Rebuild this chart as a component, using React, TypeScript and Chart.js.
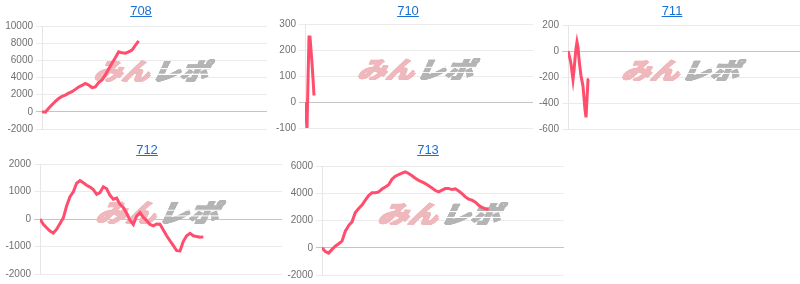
import React, { useEffect, useRef } from 'react';
import { Chart, registerables } from 'chart.js';
Chart.register(...registerables);

// ---- data ----
const titles = ['708', '710', '711', '712', '713'];

const series708 = [0, -40, 420, 820, 1210, 1550, 1800, 1950, 2180, 2340, 2620, 2890, 3090, 3300, 3130, 2830, 2900, 3400, 3700, 4300, 5000, 5650, 6300, 7000, 6870, 6830, 6980, 7200, 7750, 8260];
const series710 = [0, -50, -100, 80, 250, 250, 200, 150, 90, 25];
const series711 = [0, -30, -60, -100, -160, -220, -150, -60, 20, 70, 30, -60, -130, -190, -230, -270, -360, -450, -510, -370, -220, -215];
const series712 = [0, -190, -320, -440, -510, -370, -160, 40, 480, 810, 990, 1300, 1400, 1320, 1230, 1160, 1070, 900, 960, 1170, 1100, 860, 720, 760, 530, 420, 210, -40, -200, 110, 230, 60, -60, -200, -250, -180, -190, -400, -610, -790, -970, -1150, -1160, -810, -610, -520, -610, -640, -660, -650];
const series713 = [0, -280, -390, -120, 110, 290, 480, 1220, 1630, 1900, 2590, 2880, 3130, 3500, 3830, 4040, 4040, 4100, 4310, 4460, 4620, 5030, 5250, 5360, 5480, 5570, 5450, 5280, 5100, 4950, 4840, 4710, 4550, 4380, 4200, 4100, 4230, 4340, 4340, 4270, 4330, 4160, 3970, 3730, 3570, 3490, 3340, 3120, 2960, 2850, 2800];

const yTicks708 = [-2000, 0, 2000, 4000, 6000, 8000, 10000];
const yTicks710 = [-100, 0, 100, 200, 300];
const yTicks711 = [-600, -400, -200, 0, 200];
const yTicks712 = [-2000, -1000, 0, 1000, 2000];
const yTicks713 = [-2000, 0, 2000, 4000, 6000];

// x-axis extent (number of sample steps spanning the plot width)
const xSpan708 = 67.5;
const xSpan710 = 228;
const xSpan711 = 232;
const xSpan712 = 72.6;
const xSpan713 = 72.6;

// ---- layout (chart area boxes & title positions) ----
const AXIS_W = 42;
const PAD = 8;
const panels = [
  { title: titles[0], series: series708, ticks: yTicks708, xSpan: xSpan708, area: { l: 42, r: 267, t: 25, b: 130 }, tx: 141, ty: 3 },
  { title: titles[1], series: series710, ticks: yTicks710, xSpan: xSpan710, area: { l: 305, r: 533, t: 23, b: 129 }, tx: 408, ty: 3 },
  { title: titles[2], series: series711, ticks: yTicks711, xSpan: xSpan711, area: { l: 568, r: 800, t: 24, b: 130 }, tx: 672, ty: 3 },
  { title: titles[3], series: series712, ticks: yTicks712, xSpan: xSpan712, area: { l: 40, r: 282, t: 163, b: 275 }, tx: 147, ty: 142 },
  { title: titles[4], series: series713, ticks: yTicks713, xSpan: xSpan713, area: { l: 322, r: 564, t: 165, b: 276 }, tx: 428, ty: 142 },
];

let logoCache: HTMLCanvasElement | null = null;
function getLogo(): HTMLCanvasElement {
  if (logoCache) return logoCache;
  const fs = 60;
  const font = `900 ${fs}px "Noto Sans CJK JP", sans-serif`;
  const c = document.createElement('canvas');
  let ctx = c.getContext('2d')!;
  ctx.font = font;
  const w1 = ctx.measureText('みん').width;
  const w2 = ctx.measureText('レポ').width;
  const skew = 0.4;
  const H = Math.round(fs * 0.95);
  const gap = 4;
  c.width = Math.ceil(w1 + w2 + skew * H + 12);
  c.height = H;
  ctx = c.getContext('2d')!;
  ctx.font = font;
  ctx.textBaseline = 'middle';
  ctx.lineJoin = 'round';
  ctx.lineWidth = 4;
  ctx.setTransform(1, 0, -skew, 1, skew * H + 4, 0);
  ctx.fillStyle = ctx.strokeStyle = '#efb8bc';
  ctx.strokeText('みん', 0, H / 2 + 2);
  ctx.fillText('みん', 0, H / 2 + 2);
  ctx.fillStyle = ctx.strokeStyle = '#b4b4b4';
  ctx.strokeText('レポ', w1 + gap, H / 2 + 2);
  ctx.fillText('レポ', w1 + gap, H / 2 + 2);
  ctx.setTransform(1, 0, 0, 1, 0, 0);
  ctx.globalCompositeOperation = 'destination-out';
  ctx.fillStyle = '#000';
  const gx = w1 + gap + 4;
  [0.4, 0.64].forEach((f) => ctx.fillRect(gx, H * f, c.width - gx, 2.5));
  ctx.globalCompositeOperation = 'source-over';
  logoCache = c;
  return c;
}

const logoPlugin = {
  id: 'minrepoLogo',
  beforeDatasetsDraw(chart: any) {
    const { left, right, top, bottom } = chart.chartArea;
    const w = (right - left) * 0.57;
    const h = (bottom - top) * 0.22;
    const cx = (left + right) / 2;
    const cy = (top + bottom) / 2 - 7;
    chart.ctx.drawImage(getLogo(), cx - w / 2, cy - h / 2, w, h);
  },
};

function Panel({ cfg }: { cfg: any }) {
  const ref = useRef<HTMLCanvasElement>(null);
  const { l, r, t, b } = cfg.area;
  const W = r - l + AXIS_W;
  const Hh = b - t + PAD * 2;
  useEffect(() => {
    const ticks: number[] = cfg.ticks;
    const chart = new Chart(ref.current!, {
      type: 'line',
      data: {
        datasets: [
          {
            data: cfg.series.map((v: number, i: number) => ({ x: i, y: v })),
            borderColor: '#ff4d6d',
            borderWidth: 3,
            pointRadius: 0,
            tension: 0,
            fill: false,
          },
        ],
      },
      options: {
        animation: false,
        responsive: false,
        maintainAspectRatio: false,
        events: [],
        layout: { padding: { top: PAD, bottom: PAD, left: 0, right: 0 } },
        plugins: { legend: { display: false }, tooltip: { enabled: false }, title: { display: false } },
        scales: {
          x: { type: 'linear', min: 0, max: cfg.xSpan, display: false },
          y: {
            min: ticks[0],
            max: ticks[ticks.length - 1],
            afterFit: (s: any) => { s.width = AXIS_W; },
            ticks: {
              stepSize: ticks[1] - ticks[0],
              padding: 3,
              color: '#707070',
              font: { family: 'Arial, "Liberation Sans", sans-serif', size: 10 },
              callback: (v: any) => String(v),
            },
            grid: {
              tickLength: 6,
              color: (c: any) => (c.tick && c.tick.value === 0 ? '#c4c4c4' : '#ebebeb'),
            },
            border: { display: true, color: '#e6e6e6' },
          },
        },
      },
      plugins: [logoPlugin],
    } as any);
    return () => chart.destroy();
  }, []);
  return (
    <>
      <canvas
        ref={ref}
        width={W}
        height={Hh}
        style={{ position: 'absolute', left: l - AXIS_W, top: t - PAD, width: W, height: Hh }}
      />
      <a
        href="#"
        onClick={(e) => e.preventDefault()}
        style={{
          position: 'absolute',
          left: cfg.tx,
          top: cfg.ty,
          transform: 'translateX(-50%)',
          color: '#1a6fd3',
          fontFamily: 'Arial, "Liberation Sans", sans-serif',
          fontSize: 13,
          lineHeight: '15px',
          textDecoration: 'underline',
          whiteSpace: 'nowrap',
        }}
      >
        {cfg.title}
      </a>
    </>
  );
}

export default function App() {
  return (
    <div style={{ position: 'absolute', left: 0, top: 0, width: 800, height: 284, overflow: 'hidden', background: '#fff' }}>
      {panels.map((p) => (
        <Panel key={p.title} cfg={p} />
      ))}
    </div>
  );
}
